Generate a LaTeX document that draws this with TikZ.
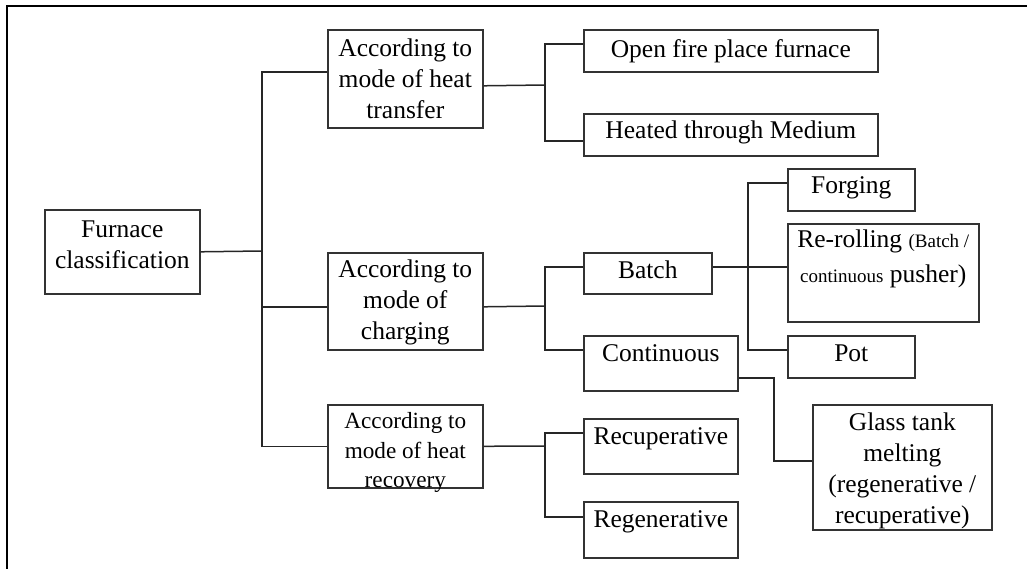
\documentclass[tikz,border=0pt]{standalone}
\usepackage{fontspec}
\setmainfont{Liberation Serif}
% text block of a box: [first baseline]{width}{height}{text}
\newcommand{\btext}[4][26pt]{\parbox[c][#3][t]{#2}{\centering\rule{0pt}{#1}#4}}
\newcommand{\smallfnt}{\fontsize{19}{22}\selectfont}
\begin{document}
\begin{tikzpicture}[x=1pt,y=-1pt,
					font=\fontsize{25.5}{31}\selectfont,
					cbox/.style={draw=black!80, line width=1.6pt, inner sep=0pt, anchor=north west},
					link/.style={draw=black!85, line width=1.5pt}
					]
	\useasboundingbox (0,0) rectangle (1027,569);
	%frame
	\draw[line width=2.5pt] (7,590) -- (7,6) -- (1050,6);

	%level 0-----------------------------------------------
	\node[cbox] (furnace) at (44,209) {\btext[28pt]{155pt}{84pt}{Furnace\\classification}}; %root

	%level 1-----------------------------------------------
	\node[cbox] (a1) at (327,29) {\btext[27pt]{155pt}{98pt}{According to\\mode of heat\\transfer}}; %heat transfer
	\node[cbox] (a2) at (327,252) {\btext[25pt]{155pt}{97pt}{According to\\mode of\\charging}}; %charging
	\node[cbox,font=\fontsize{23.2}{29.5}\selectfont] (a3) at (327,404) {\btext[24pt]{155pt}{83pt}{According to\\mode of heat\\recovery}}; %heat recovery

	%level 2-----------------------------------------------
	\node[cbox] (open) at (583,29) {\btext[28pt]{294pt}{42pt}{Open fire place furnace}}; %open fire
	\node[cbox] (heated) at (583,113) {\btext[25pt]{294pt}{42pt}{Heated through Medium}}; %medium
	\node[cbox] (batch) at (583,252) {\btext{128pt}{41pt}{Batch}}; %batch
	\node[cbox] (cont) at (583,335) {\btext{154pt}{55pt}{Continuous}}; %continuous
	\node[cbox] (recup) at (583,418) {\btext{154pt}{55pt}{Recuperative}}; %recuperative
	\node[cbox] (regen) at (583,501) {\btext{154pt}{56pt}{Regenerative}}; %regenerative

	%level 3-----------------------------------------------
	\node[cbox] (forging) at (787,168) {\btext[25pt]{127pt}{42pt}{Forging}}; %forging
	\node[cbox] (reroll) at (787,223) {\btext[24pt]{191pt}{98pt}{Re-rolling {\smallfnt(Batch /}\\[4pt]{\smallfnt continuous} pusher)}}; %re-rolling
	\node[cbox] (pot) at (787,335) {\btext{127pt}{42pt}{Pot}}; %pot
	\node[cbox] (glass) at (812,404) {\btext{179pt}{125pt}{Glass tank\\melting\\(regenerative /\\recuperative)}}; %glass tank

	%junctions
	\coordinate (t0) at (262,251);
	\coordinate (j1) at (545,85);
	\coordinate (j2) at (545,306);
	\coordinate (j3) at (748,266);
	\coordinate (j4) at (774,420);
	\coordinate (j5) at (545,446);

	%connectors--------------------------------------------
	\draw[link] (furnace.east) -- (t0); %root
	\draw[link] ([yshift=7pt]a1.west) -| (t0) |- (a3.west); %trunk
	\draw[link] ([yshift=-5.5pt]a2.west) -| (t0); %charging
	\draw[link] ([yshift=-7pt]a1.east) -- (j1);
	\draw[link] ([yshift=7pt]open.west) -| (j1) |- ([yshift=-6pt]heated.west);
	\draw[link] ([yshift=-5.5pt]a2.east) -- (j2);
	\draw[link] ([yshift=6.5pt]batch.west) -| (j2) |- ([yshift=13.5pt]cont.west);
	\draw[link] ([yshift=6.5pt]batch.east) -- ([yshift=6pt]reroll.west);
	\draw[link] ([yshift=7pt]forging.west) -| (j3) |- ([yshift=7pt]pot.west);
	\draw[link] ([yshift=-14.5pt]cont.east) -| (j4) |- ([yshift=6.5pt]glass.west);
	\draw[link] (a3.east) -- (j5);
	\draw[link] ([yshift=13.5pt]recup.west) -| (j5) |- ([yshift=13pt]regen.west);
\end{tikzpicture}
\end{document}
